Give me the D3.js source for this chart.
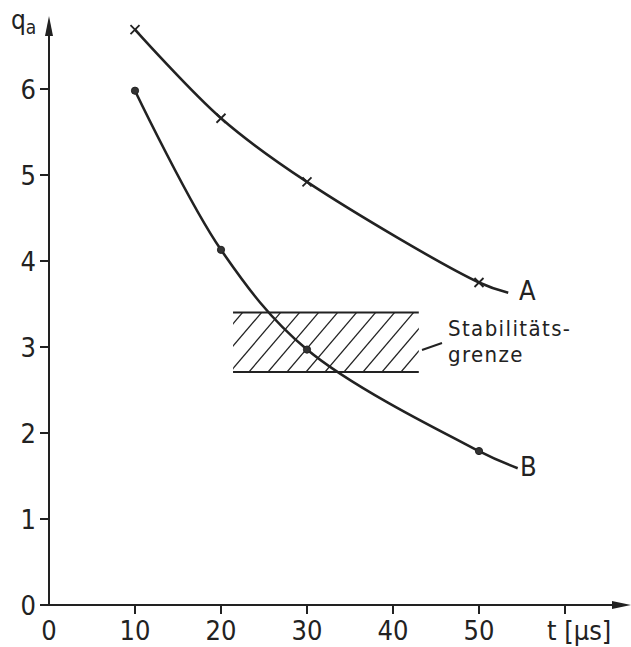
<!DOCTYPE html>
<html>
<head>
<meta charset="utf-8">
<script src="https://cdn.jsdelivr.net/npm/d3@7"></script>
<style>
  body { margin: 0; background: #fff; }
  text { font-family: "DejaVu Sans Condensed", "DejaVu Sans", sans-serif; fill: #222; }
</style>
</head>
<body>
<div id="chart"></div>
<script>
// Data
const xTicks = [0, 10, 20, 30, 40, 50];
const yTicks = [0, 1, 2, 3, 4, 5, 6];

// curve A (crosses)
const aT = [10, 20, 30, 50];
const aQ = [6.69, 5.66, 4.92, 3.75];
const aEnd = { t: 53.4, q: 3.63 };

// curve B (dots)
const bT = [10, 20, 30, 50];
const bQ = [5.98, 4.13, 2.97, 1.79];
const bEnd = { t: 54.5, q: 1.59 };

// stability band
const bandT = [21.4, 43.0];
const bandQ = [2.71, 3.40];

const width = 631, height = 647;
const x = d3.scaleLinear().domain([0, 60]).range([49, 565]);
const y = d3.scaleLinear().domain([0, 6]).range([605, 89]);
const ink = '#222';

const svg = d3.select('#chart').append('svg')
  .attr('width', width)
  .attr('height', height);

const defs = svg.append('defs');
defs.append('clipPath').attr('id', 'band-clip')
  .append('rect')
  .attr('x', x(bandT[0])).attr('y', y(bandQ[1]))
  .attr('width', x(bandT[1]) - x(bandT[0]))
  .attr('height', y(bandQ[0]) - y(bandQ[1]));

// hatched band
const bandTop = y(bandQ[1]), bandBot = y(bandQ[0]);
const bh = bandBot - bandTop;
const hatch = svg.append('g').attr('clip-path', 'url(#band-clip)');
for (let sx = x(bandT[0]) - 60; sx < x(bandT[1]) + 20; sx += 19) {
  hatch.append('line')
    .attr('x1', sx).attr('y1', bandBot)
    .attr('x2', sx + bh * 0.85).attr('y2', bandTop)
    .attr('stroke', ink).attr('stroke-width', 1.3);
}
[bandQ[0], bandQ[1]].forEach(q => {
  svg.append('line')
    .attr('x1', x(bandT[0])).attr('x2', x(bandT[1]))
    .attr('y1', y(q)).attr('y2', y(q))
    .attr('stroke', ink).attr('stroke-width', 2);
});

// axes
const axis = svg.append('g').attr('stroke', ink).attr('stroke-width', 2);
axis.append('line').attr('x1', x(0)).attr('x2', 612).attr('y1', y(0)).attr('y2', y(0));
axis.append('line').attr('x1', x(0)).attr('x2', x(0)).attr('y1', y(0)).attr('y2', 36);
svg.append('path')
  .attr('d', `M612,${y(0) - 4} L631,${y(0)} L612,${y(0) + 4} Z`)
  .attr('fill', ink);
svg.append('path')
  .attr('d', `M${x(0) - 4},36 L${x(0)},16 L${x(0) + 4},36 Z`)
  .attr('fill', ink);

xTicks.concat([60]).forEach(t => {
  if (t === 0) return;
  axis.append('line').attr('x1', x(t)).attr('x2', x(t)).attr('y1', y(0)).attr('y2', y(0) + 9);
});
yTicks.forEach(q => {
  axis.append('line').attr('x1', x(0) - 9).attr('x2', x(0)).attr('y1', y(q)).attr('y2', y(q));
});

svg.append('g').selectAll('text').data(xTicks).join('text')
  .attr('x', d => x(d)).attr('y', 640)
  .attr('text-anchor', 'middle').attr('font-size', 27)
  .text(d => d);
svg.append('text').attr('x', 547).attr('y', 640)
  .attr('font-size', 27)
  .text('t [µs]');

svg.append('g').selectAll('text').data(yTicks).join('text')
  .attr('x', 36).attr('y', d => y(d)).attr('dy', '0.36em')
  .attr('text-anchor', 'end').attr('font-size', 27)
  .text(d => d);

const ql = svg.append('text').attr('x', 11).attr('y', 29).attr('font-size', 26);
ql.append('tspan').text('q');
ql.append('tspan').attr('font-size', 19).attr('dy', 5).text('a');

// curves
const line = d3.line().x(d => x(d.t)).y(d => y(d.q)).curve(d3.curveCatmullRom.alpha(0.5));
const aPts = aT.map((t, i) => ({ t, q: aQ[i] })).concat([aEnd]);
const bPts = bT.map((t, i) => ({ t, q: bQ[i] })).concat([bEnd]);
[aPts, bPts].forEach(pts => {
  svg.append('path').datum(pts)
    .attr('d', line).attr('fill', 'none')
    .attr('stroke', ink).attr('stroke-width', 2.6);
});

// markers
aT.forEach((t, i) => {
  const cx = x(t), cy = y(aQ[i]), s = 4.5;
  svg.append('path')
    .attr('d', `M${cx - s},${cy - s}L${cx + s},${cy + s}M${cx - s},${cy + s}L${cx + s},${cy - s}`)
    .attr('stroke', ink).attr('stroke-width', 1.8);
});
svg.append('g').selectAll('circle').data(bT).join('circle')
  .attr('cx', d => x(d)).attr('cy', (d, i) => y(bQ[i]))
  .attr('r', 3.6).attr('fill', '#333').attr('stroke', ink).attr('stroke-width', 1);

// labels
svg.append('text').attr('x', 519).attr('y', 300).attr('font-size', 27).text('A');
svg.append('text').attr('x', 520).attr('y', 476).attr('font-size', 27).text('B');
svg.append('line').attr('x1', 422).attr('y1', 350).attr('x2', 442).attr('y2', 343)
  .attr('stroke', ink).attr('stroke-width', 2);
svg.append('text').attr('x', 448).attr('y', 336).attr('font-size', 22)
  .attr('letter-spacing', 1.4).text('Stabilitäts-');
svg.append('text').attr('x', 448).attr('y', 362).attr('font-size', 22)
  .attr('letter-spacing', 1.4).text('grenze');
</script>
</body>
</html>
